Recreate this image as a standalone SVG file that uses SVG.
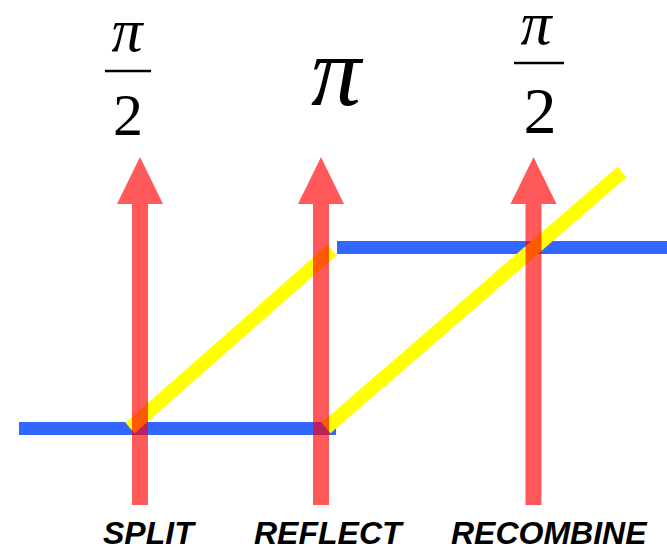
<svg xmlns="http://www.w3.org/2000/svg" width="667" height="547" viewBox="0 0 667 547">
<style>
.blue{stroke:#3366FF;stroke-width:13;fill:none}
.yel{stroke:#FFFF00;stroke-width:14;fill:none}
.arrow{fill:#FF0000;fill-opacity:0.65}
.math{font-family:"Liberation Serif","Times New Roman",serif;fill:#000}
.pi{font-style:italic}
.bar{stroke:#000;stroke-width:2.5}
.lbl{font-family:"Liberation Sans",Arial,sans-serif;font-weight:bold;font-style:italic;font-size:32px;fill:#000}
</style>
<rect width="667" height="547" fill="#fff"/>
<g id="connectors">
<line class="blue" x1="19" y1="428.5" x2="336" y2="428.5"/>
<line class="blue" x1="337" y1="247.5" x2="667" y2="247.5"/>
<line class="yel" x1="130" y1="428" x2="332" y2="250"/>
<line class="yel" x1="326" y1="428" x2="622" y2="172"/>
</g>
<g id="split">
<path class="arrow" d="M140,157 L163,204 L148,204 L148,505 L132,505 L132,204 L117,204 Z"/>
<text class="math pi" x="127" y="51" font-size="62" text-anchor="middle">π</text>
<line class="bar" x1="105" y1="71" x2="151" y2="71"/>
<text class="math" x="128" y="135" font-size="60" text-anchor="middle">2</text>
<text class="lbl" x="103" y="544">SPLIT</text>
</g>
<g id="reflect">
<path class="arrow" d="M321,157 L344,204 L329,204 L329,505 L313,505 L313,204 L298,204 Z"/>
<text class="math pi" x="336" y="105" font-size="100" text-anchor="middle">π</text>
<text class="lbl" x="254" y="544">REFLECT</text>
</g>
<g id="recombine">
<path class="arrow" d="M533.5,157 L556.5,204 L541.5,204 L541.5,505 L525.5,505 L525.5,204 L510.5,204 Z"/>
<text class="math pi" x="536" y="44" font-size="62" text-anchor="middle">π</text>
<line class="bar" x1="514" y1="63" x2="564" y2="63"/>
<text class="math" x="540" y="133" font-size="66" text-anchor="middle">2</text>
<text class="lbl" x="451" y="544">RECOMBINE</text>
</g>
</svg>
